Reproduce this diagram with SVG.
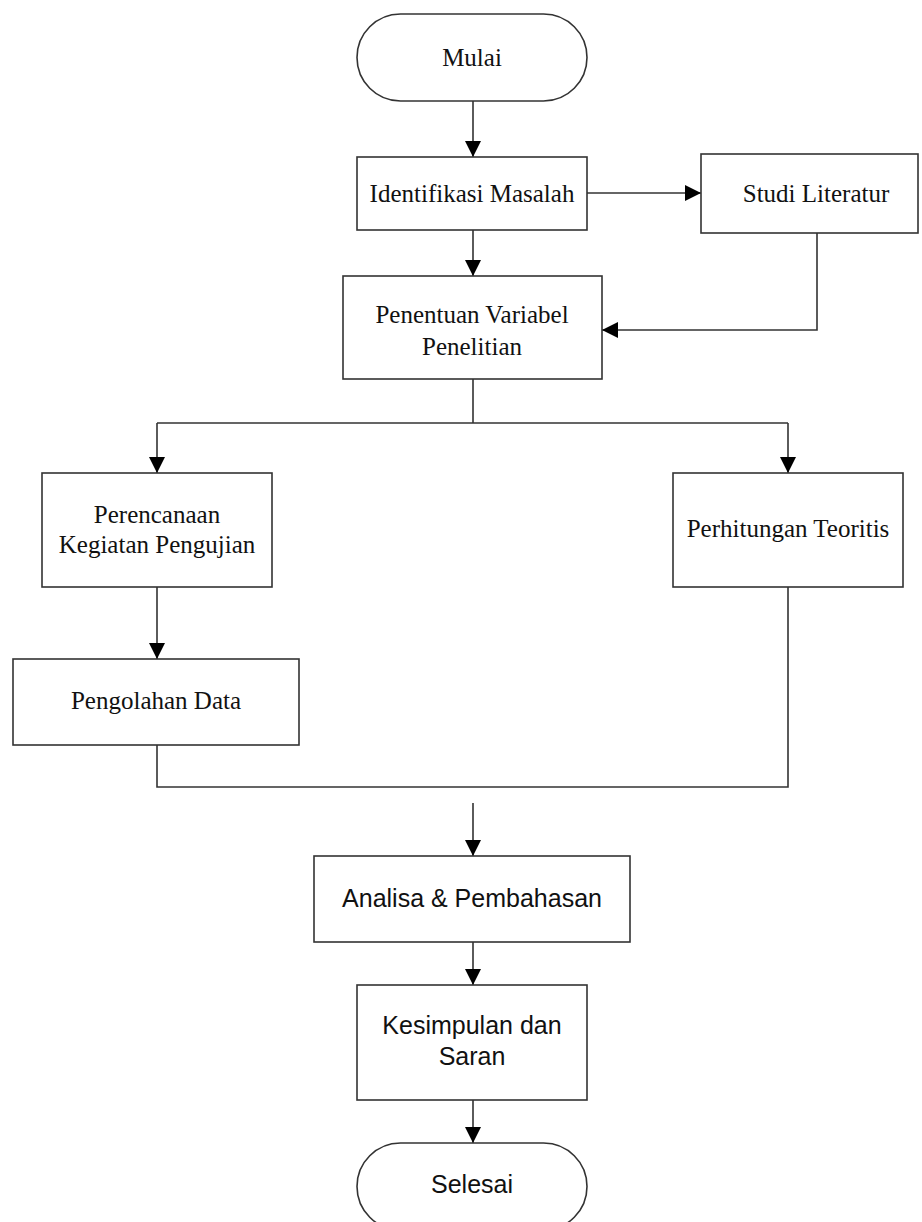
<svg xmlns="http://www.w3.org/2000/svg" width="922" height="1222" viewBox="0 0 922 1222">
<style>
.box{fill:#fff;stroke:#333;stroke-width:1.6}
.ln{fill:none;stroke:#333;stroke-width:1.6}
.ar{marker-end:url(#ah)}
.tr{font-family:"Liberation Serif","Times New Roman",serif;font-size:25px;fill:#111;text-anchor:middle}
.sa{font-family:"Liberation Sans",Arial,sans-serif;font-size:25px;fill:#111;text-anchor:middle}
</style>
<defs>
<marker id="ah" markerUnits="userSpaceOnUse" markerWidth="16" markerHeight="16" refX="16" refY="8" orient="auto" viewBox="0 0 16 16">
<path d="M0,0 L16,8 L0,16 z" fill="#000"/>
</marker>
</defs>
<rect width="922" height="1222" fill="#fff"/>
<g id="connectors">
<path class="ln ar" d="M473,101 V157"/>
<path class="ln ar" d="M587,193 H701"/>
<path class="ln ar" d="M473,230 V276"/>
<path class="ln ar" d="M817,233 V330 H602"/>
<path class="ln" d="M473,379 V423 M157,423 H788"/>
<path class="ln ar" d="M157,423 V473"/>
<path class="ln ar" d="M788,423 V473"/>
<path class="ln ar" d="M157,587 V659"/>
<path class="ln" d="M157,745 V787 H788 V587"/>
<path class="ln ar" d="M473,803 V856"/>
<path class="ln ar" d="M473,942 V985"/>
<path class="ln ar" d="M473,1100 V1143"/>
</g>
<g id="mulai">
<rect class="box" x="357" y="14" width="230" height="87" rx="43.5"/>
<text class="tr" x="472" y="66">Mulai</text>
</g>
<g id="identifikasi">
<rect class="box" x="357" y="157" width="230" height="73"/>
<text class="tr" x="472" y="202">Identifikasi Masalah</text>
</g>
<g id="studi">
<rect class="box" x="701" y="154" width="217" height="79"/>
<text class="tr" x="816" y="202">Studi Literatur</text>
</g>
<g id="penentuan">
<rect class="box" x="343" y="276" width="259" height="103"/>
<text class="tr" x="472" y="323">Penentuan Variabel</text>
<text class="tr" x="472" y="355">Penelitian</text>
</g>
<g id="perencanaan">
<rect class="box" x="42" y="473" width="230" height="114"/>
<text class="tr" x="157" y="523">Perencanaan</text>
<text class="tr" x="157" y="553">Kegiatan Pengujian</text>
</g>
<g id="perhitungan">
<rect class="box" x="673" y="473" width="230" height="114"/>
<text class="tr" x="788" y="537">Perhitungan Teoritis</text>
</g>
<g id="pengolahan">
<rect class="box" x="13" y="659" width="286" height="86"/>
<text class="tr" x="156" y="709">Pengolahan Data</text>
</g>
<g id="analisa">
<rect class="box" x="314" y="856" width="316" height="86"/>
<text class="sa" x="472" y="907">Analisa &amp; Pembahasan</text>
</g>
<g id="kesimpulan">
<rect class="box" x="357" y="985" width="230" height="115"/>
<text class="sa" x="472" y="1034">Kesimpulan dan</text>
<text class="sa" x="472" y="1065">Saran</text>
</g>
<g id="selesai">
<rect class="box" x="357" y="1143" width="230" height="87" rx="43.5"/>
<text class="sa" x="472" y="1193">Selesai</text>
</g>
</svg>
